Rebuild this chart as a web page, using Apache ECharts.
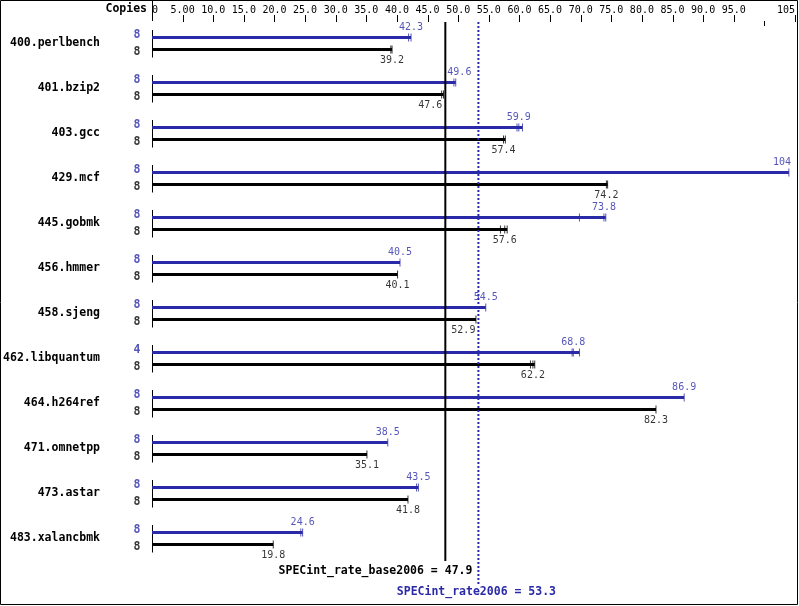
<!DOCTYPE html>
<html>
<head>
<meta charset="utf-8">
<script src="https://cdn.jsdelivr.net/npm/echarts@6/dist/echarts.min.js"></script>
<style>
html,body{margin:0;padding:0;background:#fff;}
#c{width:799px;height:606px;}
</style>
</head>
<body>
<div id="c"></div>
<script>
// ---- data ----
var benchmarks = ['400.perlbench','401.bzip2','403.gcc','429.mcf','445.gobmk','456.hmmer','458.sjeng','462.libquantum','464.h264ref','471.omnetpp','473.astar','483.xalancbmk'];
var peakValues = [42.3, 49.6, 59.9, 104, 73.8, 40.5, 54.5, 68.8, 86.9, 38.5, 43.5, 24.6];
var baseValues = [39.2, 47.6, 57.4, 74.2, 57.6, 40.1, 52.9, 62.2, 82.3, 35.1, 41.8, 19.8];
var peakCopies = [8, 8, 8, 8, 8, 8, 8, 4, 8, 8, 8, 8];
var baseCopies = [8, 8, 8, 8, 8, 8, 8, 8, 8, 8, 8, 8];
var peakRuns = [[41.9, 42.3], [49.3, 49.6], [59.6, 59.9, 60.5], [104], [69.8, 73.8, 74.1], [40.5], [54.5], [68.6, 68.8, 69.8], [86.9], [38.5], [43.2, 43.5], [24.3, 24.6]];
var baseRuns = [[39.0, 39.2], [47.3, 47.6], [57.4, 57.7], [74.2, 74.4], [56.9, 57.6, 58.0], [40.1], [52.9], [61.8, 62.2, 62.5], [82.3], [35.1], [41.8], [19.8]];
var tickValues = [0, 5, 10, 15, 20, 25, 30, 35, 40, 45, 50, 55, 60, 65, 70, 75, 80, 85, 90, 95, 105];
var tickLabels = ['0','5.00','10.0','15.0','20.0','25.0','30.0','35.0','40.0','45.0','50.0','55.0','60.0','65.0','70.0','75.0','80.0','85.0','90.0','95.0','105'];
var shortTickValue = 100;
var baseMetric = 47.9;
var peakMetric = 53.3;
var baseMetricLabel = 'SPECint_rate_base2006 = 47.9';
var peakMetricLabel = 'SPECint_rate2006 = 53.3';

var BLUE = '#2a2aa8';
var FONT = '"DejaVu Sans Mono", monospace';
var CHAR_W = 6.02;

function runPoints(runs) {
  var out = [];
  runs.forEach(function (r, i) { r.forEach(function (v) { out.push([v, i]); }); });
  return out;
}
// each bar reaches its farthest run; the label gives the reported (median) value
function barExtent(values, runs) {
  return values.map(function (v, i) { return Math.max.apply(null, [v].concat(runs[i])); });
}

var chart = echarts.init(document.getElementById('c'), null, {renderer: 'canvas'});
var option = {
  animation: false,
  backgroundColor: '#fff',
  grid: {left: 152, right: 4, top: 21, height: 540, containLabel: false},
  xAxis: {
    type: 'value', position: 'top', min: 0, max: 105, interval: 5,
    axisLine: {show: false},
    axisTick: {show: false},
    splitLine: {show: false},
    axisLabel: {
      margin: 6, color: '#000', fontFamily: FONT, fontSize: 10,
      customValues: tickValues,
      formatter: function (v) { var k = tickValues.indexOf(v); return k < 0 ? '' : tickLabels[k]; },
      alignMinLabel: 'left', alignMaxLabel: 'right'
    }
  },
  yAxis: {
    type: 'category', data: benchmarks, inverse: true,
    axisLine: {show: false}, axisTick: {show: false}, splitLine: {show: false},
    axisLabel: {margin: 52, color: '#000', fontFamily: FONT, fontSize: 11.5, fontWeight: 'bold'}
  },
  series: [
    {type: 'bar', name: 'peak', data: barExtent(peakValues, peakRuns), barWidth: 3, barGap: '300%', itemStyle: {color: BLUE}, silent: true},
    {type: 'bar', name: 'base', data: barExtent(baseValues, baseRuns), barWidth: 3, itemStyle: {color: '#000'}, silent: true},
    {type: 'scatter', data: runPoints(peakRuns), symbol: 'rect', symbolSize: [1, 8], symbolOffset: [0, -6], itemStyle: {color: BLUE}, silent: true},
    {type: 'scatter', data: runPoints(baseRuns), symbol: 'rect', symbolSize: [1, 8], symbolOffset: [0, 6], itemStyle: {color: '#000'}, silent: true},
    {type: 'scatter', data: peakCopies.map(function (c, i) { return [0, i, c]; }), symbolSize: 0, silent: true,
      label: {show: true, position: 'inside', offset: [-15, -8.5], color: BLUE, fontFamily: FONT, fontSize: 11.5, fontWeight: 'bold',
        formatter: function (p) { return String(p.value[2]); }}},
    {type: 'scatter', data: baseCopies.map(function (c, i) { return [0, i, c]; }), symbolSize: 0, silent: true,
      label: {show: true, position: 'inside', offset: [-15, 9], color: '#000', fontFamily: FONT, fontSize: 11.5, fontWeight: 'bold',
        formatter: function (p) { return String(p.value[2]); }}},
    {type: 'custom', data: benchmarks.map(function (b, i) { return [0, i]; }), silent: true,
      renderItem: function (params, api) {
        var p = api.coord([0, api.value(1)]);
        return {type: 'line', shape: {x1: p[0] + 0.5, y1: p[1] - 13.5, x2: p[0] + 0.5, y2: p[1] + 14}, style: {stroke: '#000', lineWidth: 1}};
      }}
  ]
};
chart.setOption(option);

var toX = function (v) { return chart.convertToPixel({xAxisIndex: 0}, v); };
var xb = toX(baseMetric);
var xp = toX(peakMetric);
var x0 = toX(0);
var xRight = toX(105);

// value labels: centred on the reported value, nudged off the reference lines and the frame
function labelItems(values, isBase) {
  return values.map(function (v, i) {
    var s = String(v);
    var w = s.length * CHAR_W;
    var cx = toX(v);
    var dx = 0;
    var lines = isBase ? [xb, xp] : [xb];
    lines.forEach(function (lx) {
      var l = cx + dx - w / 2, r = cx + dx + w / 2;
      if (lx > l - 1 && lx < r + 1) {
        if (isBase) dx = (lx - 3 - w / 2) - cx;
        else dx = (lx + 2 + w / 2) - cx;
      }
    });
    if (cx + dx + w / 2 > xRight - 4) dx = (xRight - 4 - w / 2) - cx;
    return {value: [v, i], label: {offset: [dx, isBase ? 17 : -16]}};
  });
}

var graphics = [
  {type: 'rect', shape: {x: 0.5, y: 0.5, width: 797, height: 604}, style: {fill: null, stroke: '#000', lineWidth: 1}, silent: true},
  {type: 'line', shape: {x1: Math.round(x0) + 0.5, y1: 0, x2: Math.round(x0) + 0.5, y2: 21}, style: {stroke: '#000', lineWidth: 1}, silent: true},
  {type: 'line', shape: {x1: Math.round(toX(shortTickValue)) + 0.5, y1: 21, x2: Math.round(toX(shortTickValue)) + 0.5, y2: 26}, style: {stroke: '#000', lineWidth: 1}, silent: true},
  {type: 'text', x: Math.round(x0) - 5, y: 9, style: {text: 'Copies', fill: '#000', font: 'bold 11.5px ' + FONT, textAlign: 'right', textVerticalAlign: 'middle'}, silent: true},
  {type: 'line', shape: {x1: xb, y1: 22, x2: xb, y2: 561}, style: {stroke: '#000', lineWidth: 2}, silent: true, z: 10},
  {type: 'line', shape: {x1: xp, y1: 22, x2: xp, y2: 584}, style: {stroke: BLUE, lineWidth: 2, lineDash: [2, 2]}, silent: true, z: 10},
  {type: 'text', x: xp - 6, y: 571, style: {text: baseMetricLabel, fill: '#000', font: 'bold 11.5px ' + FONT, textAlign: 'right', textVerticalAlign: 'middle'}, silent: true},
  {type: 'text', x: xp - 2, y: 592, style: {text: peakMetricLabel, fill: BLUE, font: 'bold 11.5px ' + FONT, textAlign: 'center', textVerticalAlign: 'middle'}, silent: true}
];
// top axis ticks (major ticks, skipping the 0 position which is the separator line)
tickValues.forEach(function (v) {
  if (v === 0) return;
  var tx = Math.round(toX(v)) + 0.5;
  graphics.push({type: 'line', shape: {x1: tx, y1: 15, x2: tx, y2: 22}, style: {stroke: '#000', lineWidth: 1}, silent: true});
});

chart.setOption({
  series: [
    {}, {}, {}, {}, {}, {}, {},
    {type: 'scatter', data: labelItems(peakValues, false), symbolSize: 0, silent: true,
      label: {show: true, position: 'inside', color: BLUE, fontFamily: FONT, fontSize: 10,
        formatter: function (p) { return String(p.value[0]); }}},
    {type: 'scatter', data: labelItems(baseValues, true), symbolSize: 0, silent: true,
      label: {show: true, position: 'inside', color: '#000', fontFamily: FONT, fontSize: 10,
        formatter: function (p) { return String(p.value[0]); }}}
  ],
  graphic: graphics
});
</script>
</body>
</html>
